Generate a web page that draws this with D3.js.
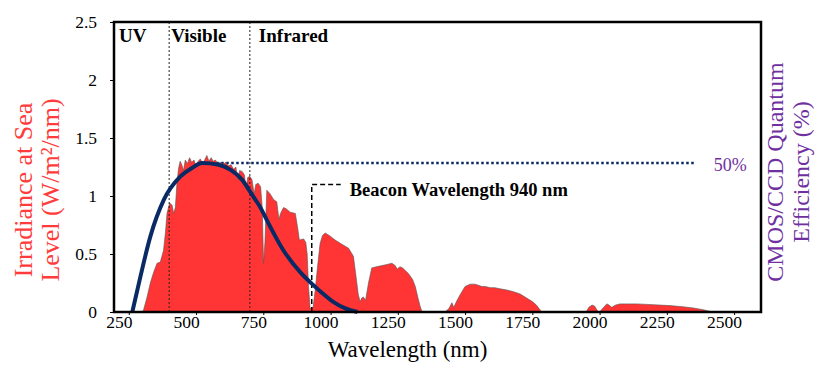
<!DOCTYPE html>
<html>
<head>
<meta charset="utf-8">
<title>Solar irradiance vs sensor QE</title>
<script src="https://d3js.org/d3.v7.min.js"></script>
<style>
  body { margin: 0; background: #fff; }
  svg { display: block; }
  text { font-family: "Liberation Serif", "Times New Roman", serif; }
</style>
</head>
<body>
<div id="chart"></div>
<script>
// Spectrum at sea level (wavelength nm, irradiance W/m2/nm)
const specWl = [300,305,318,330,342,355,367,373,379,386,392,402,411,417,423,429,435,441,447,453,
  460,468,476,484,492,500,508,516,524,532,540,548,556,564,572,580,590,600,610,620,
  630,640,648,655,662,672,680,686,692,700,708,716,722,731,740,746,751,756,763,775,
  788,800,808,814,825,835,850,869,878,884,900,908,913,918,924,935,943,952,961,970,
  980,995,1017,1045,1067,1085,1095,1103,1110,1116,1122,1130,1141,1153,1170,1191,1210,1228,1240,1248,
  1258,1268,1290,1305,1315,1325,1333,1340,1425,1440,1451,1458,1470,1482,1500,1519,1537,1550,1562,1575,
  1593,1610,1630,1655,1680,1705,1729,1750,1765,1785,1950,1960,1972,1982,1992,2000,2015,2027,2035,2045,
  2060,2076,2138,2200,2262,2310,2348,2385,2420];
const specIrr = [0,0.02,0.13,0.25,0.34,0.42,0.43,0.48,0.53,0.68,0.85,0.94,0.92,0.85,0.90,1.11,1.24,1.30,1.27,1.22,
  1.31,1.28,1.33,1.29,1.31,1.26,1.30,1.32,1.28,1.31,1.35,1.30,1.33,1.30,1.31,1.28,1.29,1.27,1.29,1.26,
  1.27,1.23,1.25,1.14,1.22,1.21,1.18,1.06,1.16,1.17,1.14,1.02,1.10,1.11,1.08,0.90,0.42,0.60,1.05,1.02,
  0.97,0.95,0.80,0.85,0.90,0.89,0.86,0.85,0.72,0.62,0.63,0.60,0.50,0.22,0.03,0.04,0.19,0.40,0.59,0.66,
  0.68,0.66,0.62,0.58,0.55,0.48,0.30,0.15,0.09,0.12,0.13,0.10,0.25,0.38,0.39,0.40,0.41,0.42,0.40,0.37,
  0.39,0.38,0.33,0.28,0.22,0.12,0.05,0,0,0.03,0.08,0.04,0.10,0.15,0.22,0.24,0.24,0.23,0.22,0.22,
  0.21,0.21,0.20,0.19,0.175,0.155,0.12,0.09,0.06,0,0,0.04,0.06,0.05,0.01,0,0.04,0.07,0.06,0.04,
  0.06,0.07,0.07,0.063,0.055,0.045,0.035,0.02,0];

// CMOS/CCD quantum efficiency curve (wavelength nm, %)
const qeWl  = [263,293,330,380,441,485,522,580,630,670,705,742,765,824,887,928,970,1010,1055,1100];
const qeVal = [0,11.8,25.3,37.6,45.4,48.3,50,49.5,47.6,44.5,39.8,34.6,30.5,20.8,13.4,9.7,6.3,3.4,1.2,0];
const qeMarker = 50;            // dotted 50% reference level
const qeMarkerRange = [575, 2350];

const xTicks = [250,500,750,1000,1250,1500,1750,2000,2250,2500];
const yTicks = [0,0.5,1,1.5,2,2.5];

const bandEdges = [400, 700];
const bandNames = ["UV", "Visible", "Infrared"];

const beaconWl = 930;
const beaconTop = 1.1;
const beaconLabel = "Beacon Wavelength 940 nm";

const w = 830, h = 373;
const padL = 114, padR = 761, padT = 22, padB = 312;

const svg = d3.select("#chart").append("svg")
  .attr("width", w).attr("height", h);

const x = d3.scaleLinear().domain([195, 2600]).range([padL, padR]);
const y = d3.scaleLinear().domain([0, 2.5]).range([padB, padT]);
// right axis: QE %, 50% sits a bit above 1.25 on the left scale
const yQE = d3.scaleLinear().domain([0, 97.3]).range([padB, padT]);

const spec = specWl.map((d, i) => ({wl: d, v: specIrr[i]}));
const qe = qeWl.map((d, i) => ({wl: d, v: qeVal[i]}));

//50% line (under the spectrum)
svg.append("line")
  .attr("x1", x(qeMarkerRange[0])).attr("x2", x(qeMarkerRange[1]))
  .attr("y1", yQE(qeMarker)).attr("y2", yQE(qeMarker))
  .attr("stroke", "#0a2a66").attr("stroke-width", 2.5)
  .attr("stroke-dasharray", "2.5,2.5");

svg.append("text")
  .attr("x", x(qeMarkerRange[1]) + 20).attr("y", yQE(qeMarker) + 8)
  .attr("fill", "#7030a0").attr("font-size", 18)
  .text(qeMarker + "%");

//spectrum
const area = d3.area()
  .x(d => x(d.wl))
  .y0(y(0))
  .y1(d => y(d.v));
svg.append("path")
  .datum(spec)
  .attr("d", area)
  .attr("fill", "#ff3434")
  .attr("stroke", "#555")
  .attr("stroke-width", 0.6);

//band dividers
svg.selectAll(".band")
  .data(bandEdges)
  .enter().append("line")
  .attr("class", "band")
  .attr("x1", d => x(d)).attr("x2", d => x(d))
  .attr("y1", padT).attr("y2", padB)
  .attr("stroke", "#222").attr("stroke-width", 1)
  .attr("stroke-dasharray", "2,2");

const bandX = [padL + 5, x(bandEdges[0]) + 2, x(bandEdges[1]) + 9];
svg.selectAll(".bandlabel")
  .data(bandNames)
  .enter().append("text")
  .attr("class", "bandlabel")
  .attr("x", (d, i) => bandX[i])
  .attr("y", 42)
  .attr("font-size", 19)
  .attr("font-weight", "bold")
  .text(d => d);

//beacon marker
svg.append("path")
  .attr("d", "M" + x(beaconWl) + "," + y(0) + "V" + y(beaconTop) + "H" + (x(beaconWl) + 29))
  .attr("fill", "none")
  .attr("stroke", "#000").attr("stroke-width", 1.5)
  .attr("stroke-dasharray", "5,3");
svg.append("text")
  .attr("x", x(beaconWl) + 38).attr("y", y(beaconTop) + 12)
  .attr("font-size", 18.5).attr("font-weight", "bold")
  .text(beaconLabel);

//QE curve
const line = d3.line()
  .x(d => x(d.wl))
  .y(d => yQE(d.v))
  .curve(d3.curveMonotoneX);
svg.append("path")
  .datum(qe)
  .attr("d", line)
  .attr("fill", "none")
  .attr("stroke", "#0a2a66")
  .attr("stroke-width", 4);

//Axes
const xAxis = d3.axisBottom(x).tickValues(xTicks).tickSize(3).tickFormat(d3.format("d"));
const gx = svg.append("g")
  .attr("transform", "translate(0," + padB + ")")
  .call(xAxis);
gx.select(".domain").remove();
gx.selectAll("text")
  .style("font-size", "17.5px")
  .attr("fill", "#000")
  .attr("x", -10).attr("y", 4);

const yAxis = d3.axisLeft(y).tickValues(yTicks).tickSize(4).tickPadding(13)
  .tickFormat(d => String(d));
const gy = svg.append("g")
  .attr("transform", "translate(" + padL + ",0)")
  .call(yAxis);
gy.select(".domain").remove();
gy.selectAll("text")
  .style("font-size", "17.5px")
  .attr("fill", "#000");

//frame
svg.append("rect")
  .attr("x", padL).attr("y", padT)
  .attr("width", padR - padL).attr("height", padB - padT)
  .attr("fill", "none").attr("stroke", "#000").attr("stroke-width", 2.5);

//Labels
svg.append("text")
  .attr("x", (padL + padR) / 2 - 30).attr("y", 357)
  .attr("text-anchor", "middle")
  .attr("font-size", 23)
  .text("Wavelength (nm)");

const yl = svg.append("text")
  .attr("transform", "translate(32,190) rotate(-90)")
  .attr("text-anchor", "middle")
  .attr("font-size", 26)
  .attr("fill", "#ff3b3b");
yl.append("tspan").attr("x", 0).attr("dy", 0).text("Irradiance at Sea");
yl.append("tspan").attr("x", 0).attr("dy", 27).text("Level (W/m²/nm)");

const yr = svg.append("text")
  .attr("transform", "translate(783,172) rotate(-90)")
  .attr("text-anchor", "middle")
  .attr("font-size", 24)
  .attr("fill", "#7030a0");
yr.append("tspan").attr("x", 0).attr("dy", 0).text("CMOS/CCD Quantum");
yr.append("tspan").attr("x", 0).attr("dy", 26).text("Efficiency (%)");
</script>
</body>
</html>
